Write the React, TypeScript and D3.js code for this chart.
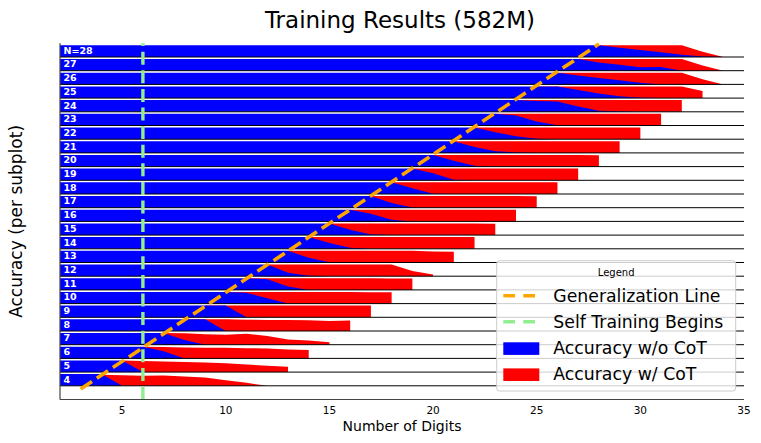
import React, { useEffect, useRef } from "react";
import * as d3 from "d3";

// one subplot per training size, bottom row first
const trainingSizes = [4, 5, 6, 7, 8, 9, 10, 11, 12, 13, 14, 15, 16, 17, 18, 19, 20, 21, 22, 23, 24, 25, 26, 27, 28];

// w/o CoT: accuracy is 1.0 from 2 digits up to this digit count
const blueFullTo = [4, 5, 6, 7, 9, 10, 10, 11, 12, 13, 14, 15, 16, 17, 18, 19, 20, 21, 22, 23, 24, 26, 26, 27, 28];

// w/o CoT: accuracy for the digit counts after that
const blueTail = [
  [0],
  [0],
  [0.6, 0],
  [0.4, 0],
  [0],
  [0],
  [0.92, 0.45, 0],
  [0.9, 0.3, 0],
  [0.3, 0.03, 0],
  [0.4, 0.02, 0],
  [0.5, 0.1, 0],
  [0.45, 0.05, 0],
  [0.65, 0.15, 0],
  [0.4, 0.02, 0],
  [0.5, 0.02, 0],
  [0.6, 0.05, 0],
  [0.5, 0.08, 0],
  [0.5, 0.15, 0.04, 0],
  [0.6, 0.25, 0.03, 0],
  [0.85, 0.35, 0.02, 0],
  [0.92, 0.88, 0.45, 0.1, 0.04, 0],
  [0.7, 0.4, 0.15, 0.02, 0],
  [0.75, 0.55, 0.35, 0.15, 0],
  [0.7, 0.5, 0.3, 0.32, 0],
  [0.8, 0.6, 0.4, 0.2, 0.05, 0],
];

// w/ CoT: accuracy starting at the training size
const redValues = [
  [0.95, 0.9, 0.86, 0.89, 0.8, 0.7, 0.48, 0.25, 0],
  [1, 0.95, 0.9, 0.87, 0.82, 0.75, 0.65, 0.55, 0.45],
  [1, 0.97, 0.94, 0.92, 0.9, 0.87, 0.84, 0.76, 0.72],
  [1, 0.97, 0.9, 0.85, 0.93, 0.75, 0.45, 0.35, 0.2],
  [1, 1, 1, 0.97, 0.95, 0.93, 0.92, 0.85, 0.9],
  [1, 1, 1, 1, 1, 1, 1, 1, 1],
  [1, 1, 1, 1, 1, 1, 1, 0.98, 0.97],
  [1, 1, 1, 1, 1, 1, 1, 0.98, 0.97],
  [1, 1, 1, 1, 1, 1, 1, 0.45, 0.15],
  [1, 1, 1, 1, 1, 1, 1, 0.95, 0.92],
  [1, 1, 1, 1, 1, 1, 1, 1, 1],
  [1, 1, 1, 1, 1, 1, 1, 1, 0.98],
  [1, 1, 1, 1, 1, 1, 1, 1, 1],
  [1, 1, 1, 1, 1, 1, 1, 1, 0.98],
  [1, 1, 1, 1, 1, 1, 1, 1, 1],
  [1, 1, 1, 1, 1, 1, 1, 1, 1],
  [1, 1, 1, 1, 1, 1, 1, 1, 0.98],
  [1, 1, 1, 1, 1, 1, 1, 1, 1],
  [1, 1, 1, 1, 1, 1, 1, 1, 1],
  [1, 1, 1, 1, 1, 1, 1, 1, 1],
  [1, 1, 1, 1, 1, 1, 1, 1, 1],
  [1, 1, 1, 1, 1, 1, 1, 1, 0.6],
  [1, 1, 1, 1, 1, 1, 1, 0.45, 0],
  [1, 1, 1, 1, 1, 1, 0.45, 0],
  [1, 1, 1, 1, 1, 0.45, 0],
];

const xTicks = [5, 10, 15, 20, 25, 30, 35];
const generalizationLine = [3, 28]; // digits = training size
const selfTrainingStart = 6;

const legendLines = [
  { label: "Generalization Line", color: "orange" },
  { label: "Self Training Begins", color: "lightgreen" },
];
const legendPatches = [
  { label: "Accuracy w/o CoT", color: "#0000ff" },
  { label: "Accuracy w/ CoT", color: "#ff0000" },
];

interface Pt {
  digit: number;
  acc: number;
}

const W = 761;
const H = 443;
const left = 60;
const right = 744;
const top = 43.3;
const bottom = 399.5;

const App: React.FC = () => {
  const ref = useRef<SVGSVGElement | null>(null);

  useEffect(() => {
    if (!ref.current) return;
    const svg = d3.select(ref.current);
    svg.selectAll("*").remove();
    const font = "DejaVu Sans, sans-serif";

    const x = d3.scaleLinear().domain([2, 35]).range([left, right]);
    // 26 rows: the sizes plus an empty one at the bottom
    const rowKeys = [...trainingSizes.slice().reverse(), 3];
    const band = d3.scaleBand<number>().domain(rowKeys).range([top, bottom]).padding(0);
    const rh = band.bandwidth();

    trainingSizes.forEach((n, i) => {
      const y0 = band(n)!;
      const y = d3.scaleLinear().domain([0, 1.17]).range([y0 + rh, y0]);
      const area = d3
        .area<Pt>()
        .x((d) => x(d.digit))
        .y0(y(0))
        .y1((d) => y(d.acc));

      const blue: Pt[] = [];
      for (let dg = 2; dg <= blueFullTo[i]; dg++) blue.push({ digit: dg, acc: 1 });
      blueTail[i].forEach((v, k) => blue.push({ digit: blueFullTo[i] + 1 + k, acc: v }));
      const red: Pt[] = redValues[i].map((v, k) => ({ digit: n + k, acc: v }));

      const g = svg.append("g");
      g.append("path").attr("d", area(red) || "").attr("fill", "#ff0000");
      g.append("path").attr("d", area(blue) || "").attr("fill", "#0000ff");
      g.append("line")
        .attr("x1", left)
        .attr("x2", right)
        .attr("y1", y(0))
        .attr("y2", y(0))
        .attr("stroke", "#000")
        .attr("stroke-width", 1);
      g.append("text")
        .attr("x", left + 3.5)
        .attr("y", y0 + rh / 2 + 3.6)
        .attr("fill", "#fff")
        .attr("font-family", font)
        .attr("font-weight", "bold")
        .attr("font-size", "9.5px")
        .text(n === 28 ? `N=${n}` : `${n}`);
    });

    // self training begins
    svg.append("line")
      .attr("x1", x(selfTrainingStart))
      .attr("x2", x(selfTrainingStart))
      .attr("y1", bottom)
      .attr("y2", top)
      .attr("stroke", "lightgreen")
      .attr("stroke-width", 3.4)
      .attr("stroke-dasharray", "13,5.6");

    // generalization line: digits == training size
    const gy = d3.scaleLinear().domain([3, 28]).range([389, 44]);
    svg.append("line")
      .attr("x1", x(generalizationLine[0]))
      .attr("y1", gy(generalizationLine[0]))
      .attr("x2", x(generalizationLine[1]))
      .attr("y2", gy(generalizationLine[1]))
      .attr("stroke", "orange")
      .attr("stroke-width", 3.6)
      .attr("stroke-dasharray", "13.5,5.8");

    // spines
    svg.append("line").attr("x1", left).attr("x2", left).attr("y1", top).attr("y2", bottom)
      .attr("stroke", "#444").attr("stroke-width", 1.2);
    svg.append("line").attr("x1", left).attr("x2", right).attr("y1", bottom).attr("y2", bottom)
      .attr("stroke", "#444").attr("stroke-width", 1.2);

    xTicks.forEach((t) => {
      svg.append("text")
        .attr("x", x(t))
        .attr("y", 413.5)
        .attr("text-anchor", "middle")
        .attr("font-family", font)
        .attr("font-size", "10.5px")
        .text(t);
    });

    svg.append("text")
      .attr("x", (left + right) / 2)
      .attr("y", 431)
      .attr("text-anchor", "middle")
      .attr("font-family", font)
      .attr("font-size", "14px")
      .text("Number of Digits");

    svg.append("text")
      .attr("transform", `translate(22,${(top + bottom) / 2}) rotate(-90)`)
      .attr("text-anchor", "middle")
      .attr("font-family", font)
      .attr("font-size", "17px")
      .text("Accuracy (per subplot)");

    svg.append("text")
      .attr("x", (left + right) / 2 - 2)
      .attr("y", 27.5)
      .attr("text-anchor", "middle")
      .attr("font-family", font)
      .attr("font-size", "23px")
      .text("Training Results (582M)");

    // legend
    const lg = svg.append("g").attr("transform", "translate(496.7,260.7)");
    lg.append("rect")
      .attr("width", 239)
      .attr("height", 130.3)
      .attr("rx", 3)
      .attr("fill", "#fff")
      .attr("fill-opacity", 0.8)
      .attr("stroke", "#cccccc")
      .attr("stroke-width", 1);
    lg.append("text")
      .attr("x", 119.5)
      .attr("y", 15.5)
      .attr("text-anchor", "middle")
      .attr("font-family", font)
      .attr("font-size", "10px")
      .text("Legend");
    const rowStep = 26.1;
    legendLines.forEach((d, i) => {
      const by = 41 + i * rowStep;
      lg.append("line")
        .attr("x1", 6.6)
        .attr("x2", 42.6)
        .attr("y1", by - 6)
        .attr("y2", by - 6)
        .attr("stroke", d.color)
        .attr("stroke-width", 3.4)
        .attr("stroke-dasharray", "11.7,8.3");
      lg.append("text")
        .attr("x", 56.6)
        .attr("y", by)
        .attr("font-family", font)
        .attr("font-size", "17.3px")
        .text(d.label);
    });
    legendPatches.forEach((d, i) => {
      const by = 41 + (i + 2) * rowStep;
      lg.append("rect")
        .attr("x", 6.6)
        .attr("y", by - 11.6)
        .attr("width", 36)
        .attr("height", 12.6)
        .attr("fill", d.color);
      lg.append("text")
        .attr("x", 56.6)
        .attr("y", by)
        .attr("font-family", font)
        .attr("font-size", "17.3px")
        .text(d.label);
    });
  }, []);

  return (
    <svg
      ref={ref}
      width={W}
      height={H}
      style={{ position: "absolute", left: 0, top: 0, background: "#fff" }}
    />
  );
};

export default App;
